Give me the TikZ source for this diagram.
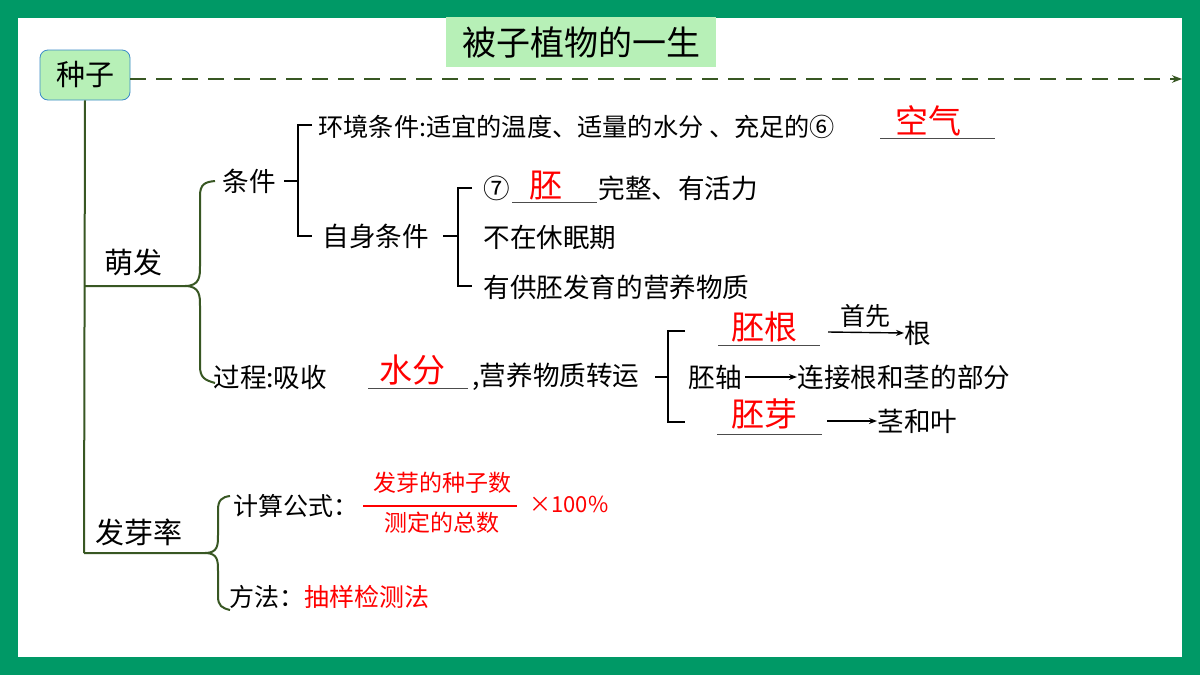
\documentclass[tikz,border=0pt]{standalone}
\usepackage{fontspec}
\setmainfont{Noto Sans CJK SC}
\usetikzlibrary{arrows.meta}
\definecolor{frameg}{RGB}{0,153,102}
\definecolor{lightg}{RGB}{183,240,183}
\definecolor{darkg}{RGB}{56,87,35}
\definecolor{boxb}{RGB}{60,140,200}
\tikzset{
 t/.style={anchor=west,inner sep=0pt,font=\fontsize{13.3}{14}\selectfont},
 r/.style={inner sep=0pt,text=red,font=\fontsize{16.5}{17}\selectfont},
 br/.style={darkg,line width=1pt},
 bk/.style={black,line width=0.7pt},
 ul/.style={black!70,line width=0.5pt},
 ar/.style={-{Stealth[length=4pt]},line width=0.7pt}
}
\begin{document}
\begin{tikzpicture}[x=0.5pt,y=-0.5pt]
\useasboundingbox (0,0) rectangle (1200,675);
\fill[frameg] (0,0) rectangle (1200,675);
\fill[white] (18,18) rectangle (1182,657);
\node[fill=lightg,minimum width=135pt,minimum height=25pt,inner sep=0pt,font=\fontsize{17}{18}\selectfont] (title) at (581,42) {被子植物的一生};
\node[fill=lightg,draw=boxb,rounded corners=4pt,minimum width=45pt,minimum height=25pt,inner sep=0pt,font=\fontsize{14.5}{15}\selectfont] (seed) at (85,75) {种子};
\coordinate (dashend) at (1182,79);
\draw[darkg,line width=1.2pt,dash pattern=on 8pt off 5pt,-{Stealth[length=5pt]}] (seed.east|-dashend) -- (dashend);
\draw[br] (seed.south) -- (84,553);
% 萌发
\node[t,font=\fontsize{14.5}{15}\selectfont] (mf) at (104,262) {萌发};
\draw[br] (84,286) -- (185,286) .. controls (200,286) and (200,276) .. (200,266) -- (200,196) .. controls (200,184) and (205,182) .. (215,181);
\draw[br] (185,286) .. controls (200,286) and (200,296) .. (200,306) -- (200,366) .. controls (200,378) and (205,380) .. (215,383);
% 条件
\node[t] (tj) at (222,181) {条件};
\draw[bk] (284,181) -- (298,181);
\draw[bk] (312,125) -- (298,125) -- (298,236) -- (312,236);
\node[t,font=\fontsize{12.6}{13}\selectfont] (hj) at (318,127) {环境条件:适宜的温度、适量的水分 、充足的⑥};
\draw[ul] (880,138) -- (995,138);
\node[r] (kq) at (928,121) {空气};
\node[t] (zs) at (322,236) {自身条件};
\draw[bk] (443,236) -- (458,236);
\draw[bk] (472,188) -- (458,188) -- (458,286) -- (472,286);
\node[t] (c7) at (483,188) {⑦};
\draw[ul] (512,202) -- (597,202);
\node[r] (pei) at (546,186) {胚};
\node[t] (wz) at (598,188) {完整、有活力};
\node[t] (bz) at (483,237) {不在休眠期};
\node[t] (yg) at (483,287) {有供胚发育的营养物质};
% 过程
\node[t] (gc) at (213,377) {过程:吸收};
\draw[ul] (368,388) -- (468,388);
\node[r] (sf) at (412,370) {水分};
\node[t] (yy) at (472,377) {,营养物质转运};
\draw[bk] (655,377) -- (668,377);
\draw[bk] (685,331) -- (668,331) -- (668,422) -- (685,422);
\node[r] (pg) at (764,327) {胚根};
\draw[ul] (718,345) -- (820,345);
\coordinate (a1) at (828,332);
\node[t] (gen) at (904,333) {根};
\draw[ar] (a1) -- (gen.west);
\node[inner sep=0pt,font=\fontsize{12.5}{13}\selectfont] (sx) at (865,316) {首先};
\node[t] (pz) at (688,377) {胚轴};
\node[t] (lj) at (797,377) {连接根和茎的部分};
\draw[ar] (pz.east)++(3,0) -- (lj.west);
\node[r] (py) at (764,414) {胚芽};
\draw[ul] (717,434) -- (822,434);
\coordinate (a3) at (827,421);
\node[t] (jy) at (877,421) {茎和叶};
\draw[ar] (a3) -- (jy.west);
% 发芽率
\node[t,font=\fontsize{14.5}{15}\selectfont] (fyl) at (95,532) {发芽率};
\draw[br] (84,553) -- (205,553) .. controls (218,553) and (218,545) .. (218,535) -- (218,510) .. controls (218,500) and (222,497) .. (230,496);
\draw[br] (205,553) .. controls (218,553) and (218,561) .. (218,571) -- (218,596) .. controls (218,606) and (222,608) .. (230,610);
\node[t,font=\fontsize{12.5}{13}\selectfont] (js) at (233,506) {计算公式：};
\node[inner sep=0pt,text=red,font=\fontsize{11.5}{12}\selectfont] (num) at (442,483) {发芽的种子数};
\draw[red,line width=1pt] (363,506) -- (517,506);
\node[inner sep=0pt,text=red,font=\fontsize{11.5}{12}\selectfont] (den) at (442,523) {测定的总数};
\node[t,text=red,font=\fontsize{11}{12}\selectfont] (pct) at (529,504) {×100\%};
\node[t,font=\fontsize{12.5}{13}\selectfont] (ff) at (229,597) {方法：};
\node[t,text=red,font=\fontsize{12.5}{13}\selectfont] (cy) at (304,597) {抽样检测法};
\end{tikzpicture}
\end{document}
